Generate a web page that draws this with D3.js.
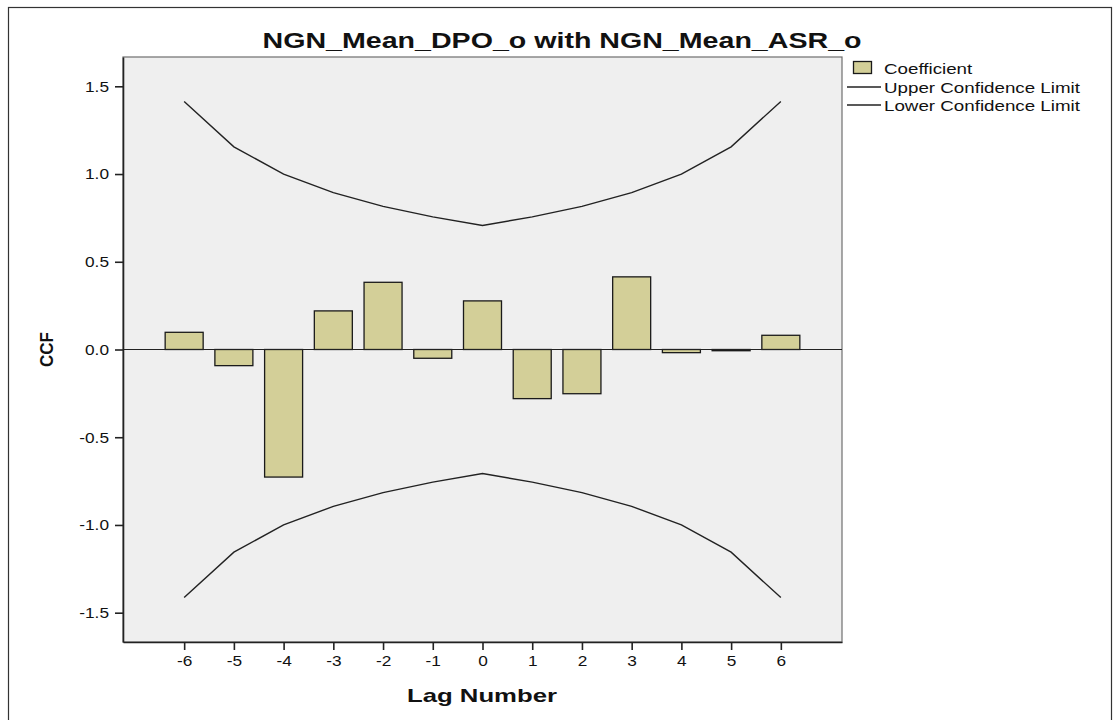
<!DOCTYPE html>
<html>
<head>
<meta charset="utf-8">
<script src="https://cdn.jsdelivr.net/npm/d3@7"></script>
<style>
  body { margin: 0; background: #fff; }
  text { font-family: "Liberation Sans", Arial, sans-serif; }
</style>
</head>
<body>
<div id="chart"></div>
<script>
// Data
const lags = [-6, -5, -4, -3, -2, -1, 0, 1, 2, 3, 4, 5, 6];
const coefficient = [0.098, -0.092, -0.727, 0.22, 0.383, -0.05, 0.277, -0.28, -0.252, 0.414, -0.018, -0.007, 0.081];
const upperLimit = [1.414, 1.155, 1.0, 0.894, 0.816, 0.756, 0.707, 0.756, 0.816, 0.894, 1.0, 1.155, 1.414];
const lowerLimit = [-1.414, -1.155, -1.0, -0.894, -0.816, -0.756, -0.707, -0.756, -0.816, -0.894, -1.0, -1.155, -1.414];
const yTicks = [-1.5, -1.0, -0.5, 0.0, 0.5, 1.0, 1.5];
const legendItems = ["Coefficient", "Upper Confidence Limit", "Lower Confidence Limit"];

const W = 1113, H = 720;
const margin = { top: 57, right: 271, bottom: 78, left: 123 };
const width = W - margin.left - margin.right;
const height = H - margin.top - margin.bottom;

// the source image is a bit wider than tall, so text gets stretched sideways
function stretch(sel, k) {
    sel.each(function() {
        const len = this.getComputedTextLength();
        d3.select(this)
            .attr("textLength", len * k)
            .attr("lengthAdjust", "spacingAndGlyphs");
    });
}

const svg = d3.select("#chart").append("svg")
    .attr("width", W)
    .attr("height", H);

// outer frame
svg.append("rect")
    .attr("x", 8.5).attr("y", 7.5)
    .attr("width", 1103).attr("height", 720)
    .attr("fill", "none").attr("stroke", "#333").attr("stroke-width", 1.2);

const g = svg.append("g")
    .attr("transform", `translate(${margin.left},${margin.top})`);

const x = d3.scaleLinear().domain([-7.23, 7.23]).range([0, width]);
const y = d3.scaleLinear().domain([-1.667, 1.667]).range([height, 0]);

// plot background
g.append("rect")
    .attr("width", width).attr("height", height)
    .attr("fill", "#efefef")
    .attr("stroke", "#6e6e6e").attr("stroke-width", 1.2);

// bars
const barW = 38;
g.selectAll(".bar")
    .data(lags)
    .enter().append("rect")
    .attr("class", "bar")
    .attr("x", (d) => x(d) - barW / 2)
    .attr("y", (d, i) => y(Math.max(0, coefficient[i])))
    .attr("width", barW)
    .attr("height", (d, i) => Math.abs(y(coefficient[i]) - y(0)))
    .attr("fill", "#d3cf98")
    .attr("stroke", "#1a1a1a")
    .attr("stroke-width", 1.3);

// zero line
g.append("line")
    .attr("x1", 0).attr("x2", width)
    .attr("y1", y(0)).attr("y2", y(0))
    .attr("stroke", "#222").attr("stroke-width", 1.2);

// confidence limits
const line = d3.line()
    .x((d) => x(d[0]))
    .y((d) => y(d[1]));

[upperLimit, lowerLimit].forEach((lim) => {
    g.append("path")
        .datum(lags.map((l, i) => [l, lim[i]]))
        .attr("d", line)
        .attr("fill", "none")
        .attr("stroke", "#222")
        .attr("stroke-width", 1.4);
});

// axes
const hyphen = (f) => (d) => f(d).replace("\u2212", "-");
const xAxis = g.append("g")
    .attr("transform", `translate(0,${height})`)
    .call(d3.axisBottom(x).tickValues(lags).tickFormat(hyphen(d3.format("d")))
        .tickSize(8).tickSizeOuter(0).tickPadding(5));
const yAxis = g.append("g")
    .call(d3.axisLeft(y).tickValues(yTicks).tickFormat(hyphen(d3.format(".1f")))
        .tickSize(8).tickSizeOuter(0).tickPadding(6));

[xAxis, yAxis].forEach((ax) => {
    ax.select(".domain").attr("stroke", "#222").attr("stroke-width", 1.6);
    ax.selectAll(".tick line").attr("stroke", "#222").attr("stroke-width", 1.6);
    ax.selectAll(".tick text")
        .attr("fill", "#111")
        .style("font-family", "'Liberation Sans', Arial, sans-serif")
        .style("font-size", "15px")
        .call(stretch, 1.15);
});

// title
svg.append("text")
    .attr("x", 562)
    .attr("y", 48)
    .attr("text-anchor", "middle")
    .style("font-size", "22px")
    .style("font-weight", "bold")
    .attr("fill", "#111")
    .attr("textLength", 599)
    .attr("lengthAdjust", "spacingAndGlyphs")
    .text("NGN_Mean_DPO_o with NGN_Mean_ASR_o");

// axis titles
svg.append("text")
    .attr("x", 482)
    .attr("y", 702)
    .attr("text-anchor", "middle")
    .style("font-size", "19px")
    .style("font-weight", "bold")
    .attr("fill", "#111")
    .attr("textLength", 150)
    .attr("lengthAdjust", "spacingAndGlyphs")
    .text("Lag Number");

svg.append("text")
    .attr("transform", `translate(53,${margin.top + y(0)}) rotate(-90)`)
    .attr("text-anchor", "middle")
    .style("font-size", "19px")
    .style("font-weight", "bold")
    .attr("fill", "#111")
    .attr("textLength", 35)
    .attr("lengthAdjust", "spacingAndGlyphs")
    .text("CCF");

// legend
const legend = svg.append("g").attr("transform", "translate(847,0)");
legend.append("rect")
    .attr("x", 6.5).attr("y", 61.5)
    .attr("width", 18).attr("height", 12)
    .attr("fill", "#d3cf98").attr("stroke", "#1a1a1a").attr("stroke-width", 1.3);
legendItems.forEach((name, i) => {
    if (i > 0) {
        legend.append("line")
            .attr("x1", 0).attr("x2", 34)
            .attr("y1", 69 + i * 18).attr("y2", 69 + i * 18)
            .attr("stroke", "#222").attr("stroke-width", 1.4);
    }
    legend.append("text")
        .attr("x", 37)
        .attr("y", 74 + i * 18.5)
        .style("font-size", "15px")
        .attr("fill", "#111")
        .text(name)
        .call(stretch, 1.25);
});
</script>
</body>
</html>
